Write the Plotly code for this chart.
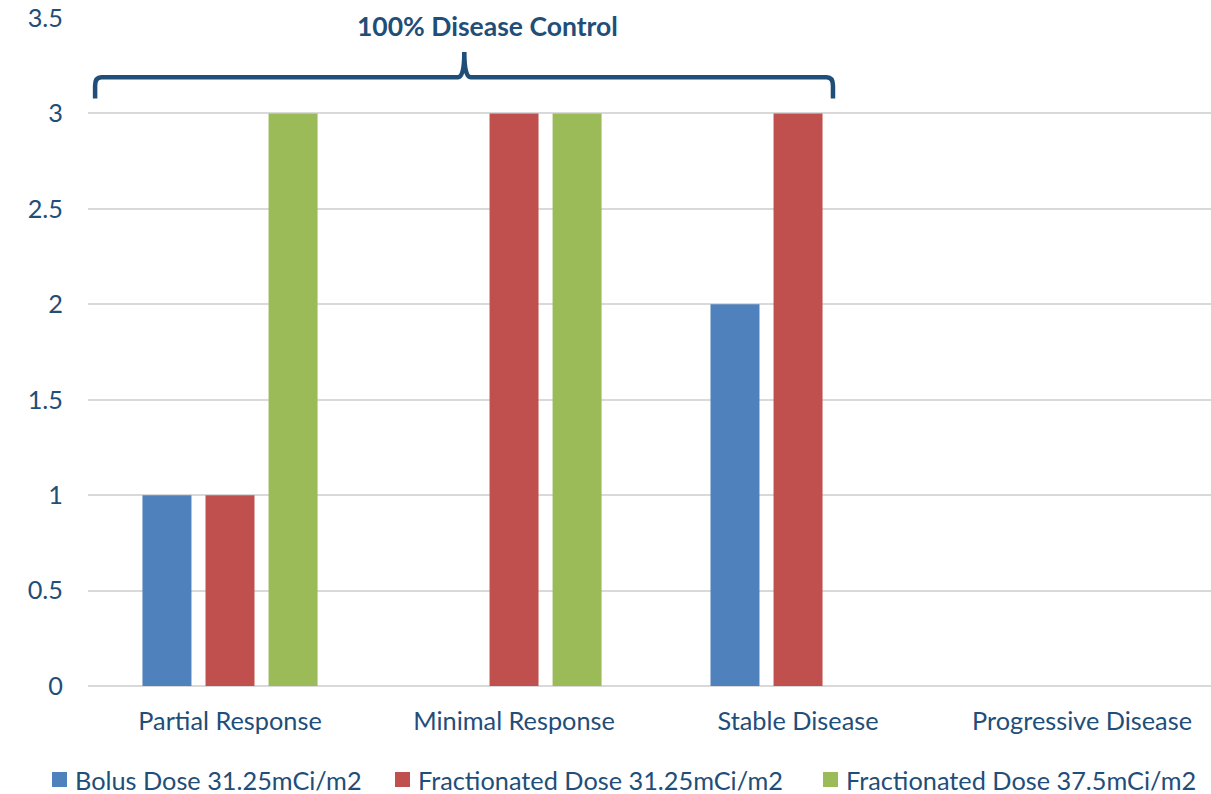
import plotly.graph_objects as go

categories = ["Partial Response", "Minimal Response", "Stable Disease", "Progressive Disease"]
series_names = ["Bolus Dose 31.25mCi/m2", "Fractionated Dose 31.25mCi/m2", "Fractionated Dose 37.5mCi/m2"]
bolus_3125 = [1, 0, 2, 0]
fract_3125 = [1, 3, 3, 0]
fract_375 = [3, 3, 0, 0]
colors = ["#4F81BD", "#C0504D", "#9BBB59"]
y_ticks = [0, 0.5, 1, 1.5, 2, 2.5, 3, 3.5]
y_tick_text = ["0", "0.5", "1", "1.5", "2", "2.5", "3", "3.5"]
bracket_label = "100% Disease Control"

TXT = "#1F4E79"
FONT = "Lato"
FS = 25.3
W, H = 1211, 794
ML, MR, MT, MB = 88, 0, 18, 108

xpos = list(range(len(categories)))
fig = go.Figure()
for name, vals, col in zip(series_names, [bolus_3125, fract_3125, fract_375], colors):
    fig.add_trace(go.Bar(x=xpos, y=vals, name=name, marker=dict(color=col, line=dict(width=0))))

# bracket (curly brace) spanning first three categories
x0, x1, xm = -0.475, 2.123, 0.825
yb, yt, ytip = 3.078, 3.19, 3.322
rx, ry = 0.022, 0.045
path = (f"M {x0},{yb} L {x0},{yt-ry} Q {x0},{yt} {x0+rx},{yt} "
        f"L {xm-rx},{yt} Q {xm},{yt} {xm},{ytip} Q {xm},{yt} {xm+rx},{yt} "
        f"L {x1-rx},{yt} Q {x1},{yt} {x1},{yt-ry} L {x1},{yb}")
fig.add_shape(type="path", path=path, xref="x", yref="y",
              line=dict(color=TXT, width=4.5), layer="above")
fig.add_annotation(x=0.905, y=3.458, xref="x", yref="y", text=f"<b>{bracket_label}</b>",
                   showarrow=False, font=dict(family=FONT, size=26.5, color=TXT))

# custom legend row (layout positions in pixels, converted to paper coords)
pw, ph = W - ML - MR, H - MT - MB
def px_x(px):
    return (px - ML) / pw
def px_y(py):
    return (H - MB - py) / ph
legend_sq_left = [52, 395, 823]
sq = 15
leg_cy = 779.5
for name, col, sx in zip(series_names, colors, legend_sq_left):
    fig.add_shape(type="rect", xref="paper", yref="paper",
                  x0=px_x(sx), x1=px_x(sx + sq), y0=px_y(leg_cy + sq / 2), y1=px_y(leg_cy - sq / 2),
                  fillcolor=col, line=dict(width=0))
    fig.add_annotation(xref="paper", yref="paper", x=px_x(sx + sq + 6), y=px_y(leg_cy),
                       xanchor="left", yanchor="middle", text=name, showarrow=False,
                       font=dict(family=FONT, size=FS, color=TXT))

fig.update_layout(
    width=W, height=H,
    margin=dict(l=ML, r=MR, t=MT, b=MB),
    paper_bgcolor="white", plot_bgcolor="white",
    barmode="group", bargap=0.334, bargroupgap=0.223,
    font=dict(family=FONT, size=FS, color=TXT),
    showlegend=False,
)
fig.update_xaxes(range=[-0.5, 3.454], tickmode="array", tickvals=xpos, ticktext=categories,
                 showgrid=False, zeroline=False, showline=False, ticks="",
                 ticklabelstandoff=18, automargin=False,
                 tickfont=dict(family=FONT, size=FS, color=TXT))
fig.update_yaxes(range=[0, 3.5], tickmode="array", tickvals=y_ticks, ticktext=y_tick_text,
                 showgrid=True, gridcolor="#D9D9D9", gridwidth=1.5,
                 zeroline=True, zerolinecolor="#D9D9D9", zerolinewidth=1.5,
                 showline=False, ticks="", ticklabelstandoff=24, automargin=False,
                 tickfont=dict(family=FONT, size=FS, color=TXT))

fig.write_html("out.html", config={"displayModeBar": False},
               post_script="document.body.style.margin='0';")
